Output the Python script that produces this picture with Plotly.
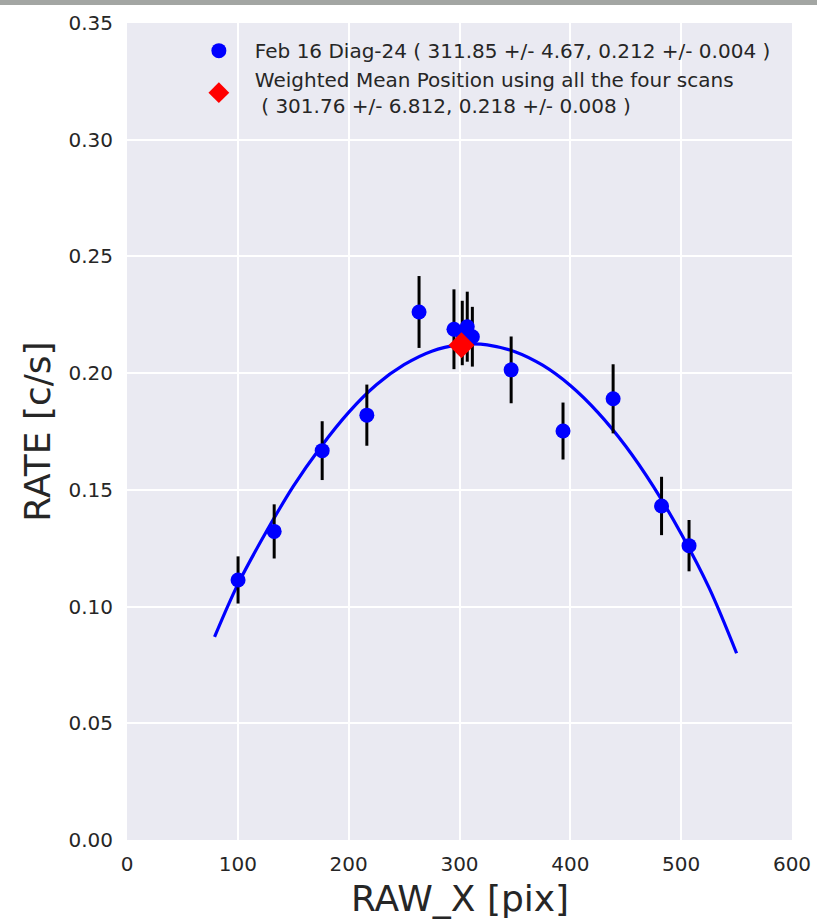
import plotly.graph_objects as go

# Scan data points (Feb 16 Diag-24)
raw_x = [100.2, 132.8, 176.1, 216.4, 263.5, 295.0, 302.5, 307.0, 311.6, 346.6, 393.4, 438.6, 482.3, 507.1]
rate = [0.1114, 0.1322, 0.1668, 0.1820, 0.2262, 0.2188, 0.2172, 0.2199, 0.2156, 0.2014, 0.1752, 0.1890, 0.1431, 0.1261]
rate_err = [0.0101, 0.0116, 0.0126, 0.0131, 0.0154, 0.0171, 0.0138, 0.0150, 0.0128, 0.0143, 0.0122, 0.0148, 0.0125, 0.0110]

# Fitted curve
fit_x = [79, 100, 125, 150, 175, 200, 225, 250, 275, 300, 312, 325, 350, 375, 400, 425, 450, 475, 500, 525, 550]
fit_y = [0.0870, 0.1095, 0.1315, 0.1515, 0.1685, 0.1832, 0.1950, 0.2036, 0.2094, 0.2122, 0.2125, 0.2121, 0.2092,
         0.2034, 0.1947, 0.1831, 0.1687, 0.1514, 0.1312, 0.1082, 0.0800]

# Weighted mean position
mean_x = [301.76]
mean_y = [0.212]
mean_xerr = [6.812]
mean_yerr = [0.004]

label_scan = "Feb 16 Diag-24 ( 311.85 +/- 4.67, 0.212 +/- 0.004 )"
label_mean = "Weighted Mean Position using all the four scans<br> ( 301.76 +/- 6.812, 0.218 +/- 0.008 )"
x_title = "RAW_X [pix]"
y_title = "RATE [c/s]"

x_ticks = [0, 100, 200, 300, 400, 500, 600]
y_ticks = [0.00, 0.05, 0.10, 0.15, 0.20, 0.25, 0.30, 0.35]

fig = go.Figure()

fig.add_trace(go.Scatter(
    x=fit_x, y=fit_y, mode="lines", line=dict(color="#0000ff", width=3.2, shape="spline"),
    showlegend=False, hoverinfo="skip"))

fig.add_trace(go.Scatter(
    x=raw_x, y=rate, mode="markers", name=label_scan,
    marker=dict(color="#0000ff", size=15, line=dict(width=0)),
    error_y=dict(type="data", array=rate_err, color="black", thickness=3, width=0)))

fig.add_trace(go.Scatter(
    x=mean_x, y=mean_y, mode="markers", name=label_mean,
    marker=dict(color="#ff0000", symbol="diamond", size=20, line=dict(width=0)),
    error_x=dict(type="data", array=mean_xerr, color="#ff0000", thickness=3, width=0),
    error_y=dict(type="data", array=mean_yerr, color="#ff0000", thickness=3, width=0)))

fig.add_shape(type="rect", xref="paper", yref="paper", x0=-0.2, x1=1.05, y0=1.0220, y1=1.03,
              fillcolor="#a3a6a3", line=dict(width=0), layer="above")

fig.add_annotation(text=x_title, xref="paper", yref="paper", x=0.5, y=-0.0715,
                   xanchor="center", yanchor="middle", showarrow=False,
                   font=dict(size=36, color="#262626"))

font_fam = "DejaVu Sans, sans-serif"
fig.update_layout(
    width=817, height=919,
    margin=dict(l=127, r=25, t=23, b=79, autoexpand=False),
    paper_bgcolor="white", plot_bgcolor="#eaeaf2",
    font=dict(family=font_fam, color="#262626"),
    showlegend=True,
    legend=dict(x=0.084, y=0.990, xanchor="left", yanchor="top", bgcolor="rgba(0,0,0,0)",
                font=dict(size=20, color="#262626"), itemwidth=62,
                tracegroupgap=2),
    xaxis=dict(range=[0, 600], tickvals=x_ticks, ticktext=[str(v) for v in x_ticks],
               showgrid=True, gridcolor="white", gridwidth=2, zeroline=False, showline=False,
               ticks="outside", ticklen=6, tickcolor="rgba(0,0,0,0)", automargin=False,
               tickfont=dict(size=20, color="#262626")),
    yaxis=dict(range=[0, 0.35], tickvals=y_ticks, ticktext=["%.2f" % v for v in y_ticks],
               showgrid=True, gridcolor="white", gridwidth=2, zeroline=False, showline=False,
               ticks="outside", ticklen=9, tickcolor="rgba(0,0,0,0)", automargin=False,
               tickfont=dict(size=20, color="#262626"),
               title=dict(text=y_title, font=dict(size=36, color="#262626"), standoff=6)),
)

fig.write_html("out.html", config={"displayModeBar": False},
               post_script="document.body.style.margin='0';document.body.style.overflow='hidden';")
